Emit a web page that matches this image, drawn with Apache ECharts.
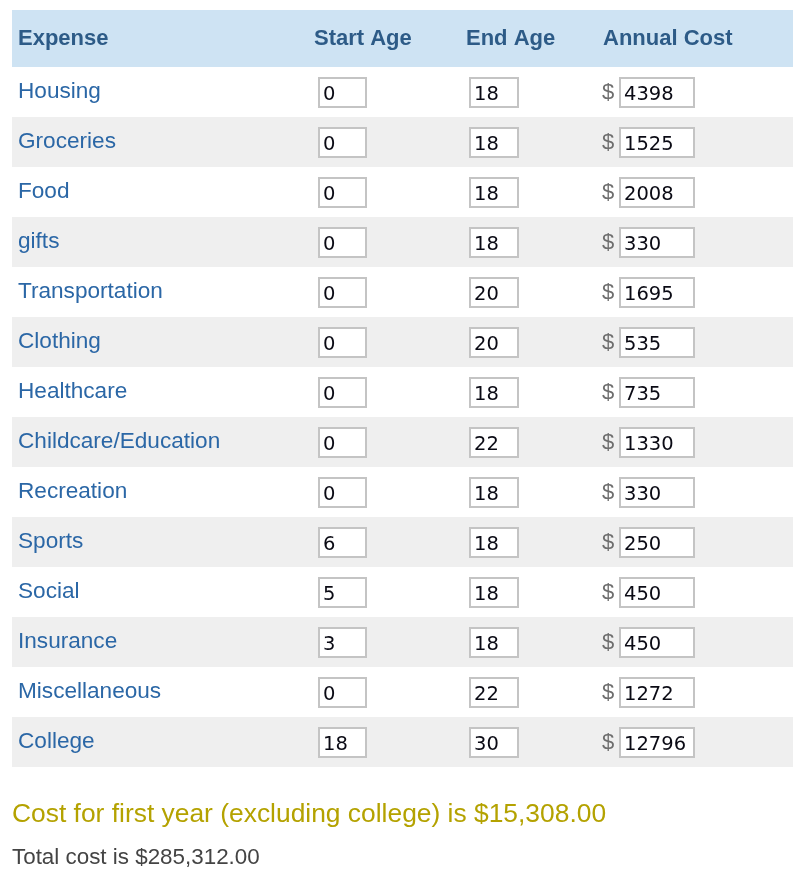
<!DOCTYPE html>
<html>
<head>
<meta charset="utf-8">
<script src="https://cdn.jsdelivr.net/npm/echarts@6/dist/echarts.min.js"></script>
<style>
html,body{margin:0;padding:0;background:#fff;}
#chart{width:803px;height:883px;}
</style>
</head>
<body>
<div id="chart"></div>
<script>
// ---- data ----
const headers = ['Expense', 'Start Age', 'End Age', 'Annual Cost'];
const expenses = ['Housing', 'Groceries', 'Food', 'gifts', 'Transportation', 'Clothing', 'Healthcare',
  'Childcare/Education', 'Recreation', 'Sports', 'Social', 'Insurance', 'Miscellaneous', 'College'];
const startAges = [0, 0, 0, 0, 0, 0, 0, 0, 0, 6, 5, 3, 0, 18];
const endAges = [18, 18, 18, 18, 20, 20, 18, 22, 18, 18, 18, 18, 22, 30];
const annualCosts = [4398, 1525, 2008, 330, 1695, 535, 735, 1330, 330, 250, 450, 450, 1272, 12796];
const firstYearCost = 15308;
const totalCost = 285312;

// ---- layout / style (not data) ----
const GRID_LEFT = 12, GRID_TOP = 67, GRID_W = 781, ROW_H = 50;
const COL = { label: 6, startBox: 306, endBox: 457, dollar: 590, costBox: 607 }; // offsets from grid left
const HEAD_X = [18, 314, 466, 603];
const LABEL_FONT = '22.6px "Liberation Sans", Arial, sans-serif';
const INPUT_FONT = '19.5px "DejaVu Sans", Verdana, sans-serif';

function money(v) {
  return '$' + v.toLocaleString('en-US', { minimumFractionDigits: 2, maximumFractionDigits: 2 });
}

const rows = expenses.map((name, i) => [0, i]);

function inputBox(x, yTop, w, text) {
  return [
    { type: 'rect', shape: { x: x + 1, y: yTop + 1, width: w - 2, height: 29 },
      style: { fill: '#ffffff', stroke: '#c4c4c4', lineWidth: 2 } },
    { type: 'text', style: { x: x + 5, y: yTop + 18, text: String(text), font: INPUT_FONT,
      fill: '#0a0a14', textVerticalAlign: 'middle', textAlign: 'left' } }
  ];
}

const chart = echarts.init(document.getElementById('chart'), null, { renderer: 'canvas' });
chart.setOption({
  animation: false,
  backgroundColor: '#ffffff',
  grid: { left: GRID_LEFT, top: GRID_TOP, width: GRID_W, height: ROW_H * expenses.length },
  xAxis: { type: 'value', min: 0, max: GRID_W, show: false },
  yAxis: { type: 'category', data: expenses, inverse: true, show: false },
  graphic: [
    { type: 'rect', left: 12, top: 10, shape: { width: 781, height: 57 }, style: { fill: '#cee3f3' } },
    ...headers.map((h, k) => ({
      type: 'text', left: HEAD_X[k], top: 28,
      style: { text: h, font: 'bold 22px "Liberation Sans", Arial, sans-serif', fill: '#2d5b87' }
    })),
    { type: 'text', left: 12, top: 802,
      style: { text: 'Cost for first year (excluding college) is ' + money(firstYearCost),
        font: '26.4px "Liberation Sans", Arial, sans-serif', fill: '#b4a200' } },
    { type: 'text', left: 12, top: 847,
      style: { text: 'Total cost is ' + money(totalCost),
        font: '22.4px "Liberation Sans", Arial, sans-serif', fill: '#444444' } }
  ],
  series: [{
    type: 'custom',
    coordinateSystem: 'cartesian2d',
    clip: false,
    data: rows,
    renderItem: function (params, api) {
      const i = api.value(1);
      const c = api.coord([0, i]);
      const h = api.size([0, 1])[1];
      const x0 = params.coordSys.x;
      const yTop = c[1] - h / 2;
      const children = [
        { type: 'rect', shape: { x: x0, y: yTop, width: params.coordSys.width, height: h },
          style: { fill: i % 2 === 1 ? '#efefef' : '#ffffff' } },
        { type: 'text', style: { x: x0 + COL.label, y: c[1], text: expenses[i], font: LABEL_FONT,
          fill: '#2b67a6', textVerticalAlign: 'middle' } },
        ...inputBox(x0 + COL.startBox, yTop + 10, 49, startAges[i]),
        ...inputBox(x0 + COL.endBox, yTop + 10, 50, endAges[i]),
        { type: 'text', style: { x: x0 + COL.dollar, y: c[1] + 1, text: '$', font: '22px "Liberation Sans", Arial, sans-serif',
          fill: '#6e6e6e', textVerticalAlign: 'middle' } },
        ...inputBox(x0 + COL.costBox, yTop + 10, 76, annualCosts[i])
      ];
      return { type: 'group', children: children };
    }
  }]
});
</script>
</body>
</html>
